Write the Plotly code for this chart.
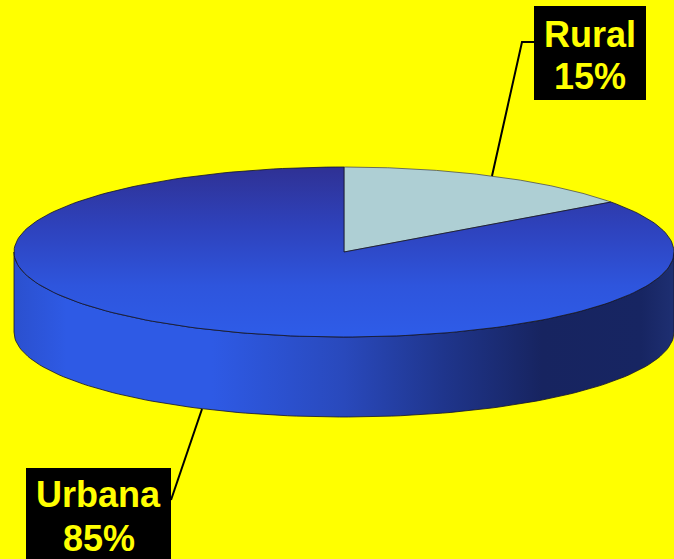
import numpy as np
import plotly.graph_objects as go

labels = ["Rural", "Urbana"]
values = [15, 85]
pct_text = ["15%", "85%"]
top_colors = ["#AECFD4", None]  # None -> gradient blue

W, H = 674, 559
cx, cy, rx, ry, depth = 344, 252, 330, 85, 80
start_deg = 90.0

def ell(t, dy=0.0):
    return cx + rx * np.cos(t), cy - ry * np.sin(t) + dy

fig = go.Figure()

total = float(sum(values))
angles = []
a = start_deg
for v in values:
    b = a - 360.0 * v / total
    angles.append((a, b))
    a = b

# side walls (front half: angles 180..360)
for i, (a0, a1) in enumerate(angles):
    lo, hi = min(a0, a1), max(a0, a1)
    for k in (-360, 0, 360):
        s, e = max(lo + k, 180), min(hi + k, 360)
        if e > s:
            t = np.radians(np.linspace(s, e, 120))
            xt, yt = ell(t)
            xb, yb = ell(t[::-1], depth)
            xs = np.concatenate([xt, xb, xt[:1]])
            ys = np.concatenate([yt, yb, yt[:1]])
            fig.add_trace(go.Scatter(
                x=xs, y=ys, mode="lines", fill="toself",
                line=dict(color="rgba(20,20,40,0.8)", width=1),
                fillgradient=dict(type="horizontal", start=cx - rx, stop=cx + rx,
                                  colorscale=[[0, "#2B50CE"], [0.08, "#2E5AE5"], [0.3, "#2E5AE5"],
                                              [0.5, "#2949BC"], [0.65, "#1F358C"], [0.8, "#172460"],
                                              [0.95, "#172562"], [1, "#1E2F72"]]),
                hoverinfo="skip", showlegend=False))

# top faces
for i, (a0, a1) in enumerate(angles):
    t = np.radians(np.linspace(a0, a1, 200))
    xa, ya = ell(t)
    xs = np.concatenate([[cx], xa, [cx]])
    ys = np.concatenate([[cy], ya, [cy]])
    if top_colors[i]:
        fig.add_trace(go.Scatter(
            x=xs, y=ys, mode="lines", fill="toself", fillcolor=top_colors[i],
            line=dict(color="rgba(60,60,80,0.7)", width=1),
            hoverinfo="skip", showlegend=False))
    else:
        fig.add_trace(go.Scatter(
            x=xs, y=ys, mode="lines", fill="toself",
            line=dict(color="rgba(20,20,40,0.8)", width=1),
            fillgradient=dict(type="vertical", start=cy - ry, stop=cy + ry,
                              colorscale=[[0, "#2F3194"], [0.35, "#2E42BC"],
                                          [0.7, "#2E55DD"], [1, "#2E5CE8"]]),
            hoverinfo="skip", showlegend=False))

# label boxes and leader lines
boxes = {
    "Rural": dict(x0=534, x1=646, y0=6, y1=100, cxl=590, ys=(34, 76),
                  path="M 534 42 L 522 42 L 492 176"),
    "Urbana": dict(x0=26, x1=171, y0=468, y1=570, cxl=98.5, ys=(494, 538),
                   path="M 171 500 L 202 409"),
}
shapes = []
annots = []
for lab, pt in zip(labels, pct_text):
    bx = boxes[lab]
    shapes.append(dict(type="rect", xref="x", yref="y", x0=bx["x0"], x1=bx["x1"],
                       y0=bx["y0"], y1=bx["y1"], fillcolor="black", line=dict(width=0)))
    shapes.append(dict(type="path", xref="x", yref="y", path=bx["path"],
                       line=dict(color="black", width=2)))
    for txt, yy in zip((lab, pt), bx["ys"]):
        annots.append(dict(x=bx["cxl"], y=yy, xref="x", yref="y", text="<b>%s</b>" % txt,
                           showarrow=False, xanchor="center", yanchor="middle",
                           font=dict(family="Liberation Sans, Arial", size=36, color="#FFFF00")))

fig.update_layout(
    width=W, height=H, margin=dict(l=0, r=0, t=0, b=0),
    paper_bgcolor="#FFFF00", plot_bgcolor="#FFFF00",
    xaxis=dict(range=[0, W], visible=False, fixedrange=True),
    yaxis=dict(range=[H, 0], visible=False, fixedrange=True),
    shapes=shapes, annotations=annots, showlegend=False,
)
fig.write_html("out.html", config={"displayModeBar": False})
